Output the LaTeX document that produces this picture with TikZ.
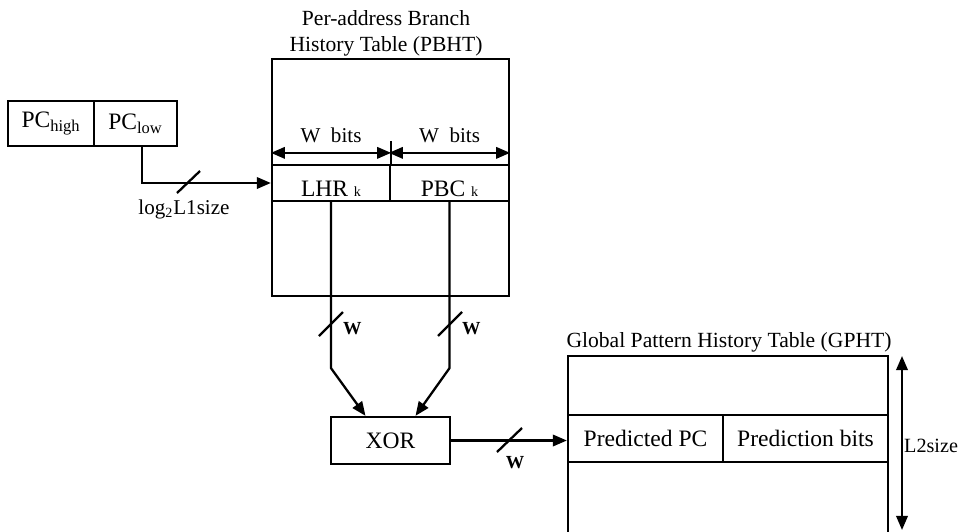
\documentclass[tikz,border=0pt]{standalone}
\usepackage{fontspec}
\setmainfont{Liberation Serif}
\usetikzlibrary{arrows.meta, positioning, calc}

\begin{document}
\begin{tikzpicture}[
  x=0.02cm, y=-0.02cm,
  >={Triangle[length=8pt, width=6.5pt]},
  line width=1.3pt,
  every node/.style={font=\fontsize{13.4}{15}\selectfont},
  cell/.style={draw, inner sep=0pt, minimum height=0.94cm},
  title/.style={font=\fontsize{12.3}{14.7}\selectfont, align=center, inner sep=0pt},
  note/.style={font=\fontsize{12}{14}\selectfont, inner sep=0pt},
  buslabel/.style={font=\fontsize{10.5}{12}\selectfont\bfseries, inner sep=0pt},
]
\useasboundingbox (0,0) rectangle (959,531);

% PC register
\node[cell, minimum width=1.72cm, minimum height=0.9cm] (pchigh) at (51,123.5) {PC\textsubscript{high}};
\node[cell, minimum width=1.66cm, minimum height=0.9cm] (pclow) at (135.5,123.5) {PC\textsubscript{low}};

% Per-address Branch History Table
\node[draw, minimum width=4.74cm, minimum height=4.74cm] (pbht) at (390.5,177.5) {};
\node[title, anchor=south] at (386,57) {Per-address Branch\\History Table (PBHT)};
\node[cell, minimum width=2.36cm, minimum height=0.72cm, text height=0.55cm] (lhr) at (331,183) {LHR {\footnotesize k}};
\node[cell, minimum width=2.38cm, minimum height=0.72cm, text height=0.55cm] (pbc) at (449.5,183) {PBC {\footnotesize k}};

% W bits widths
\draw[<->] ([yshift=0.22cm]lhr.north west) -- ([yshift=0.22cm]lhr.north east)
  node[midway, above, note, inner sep=5pt] {W\ \ bits};
\draw[<->] ([yshift=0.22cm]pbc.north west) -- ([yshift=0.22cm]pbc.north east)
  node[midway, above, note, inner sep=5pt] {W\ \ bits};
\draw ([yshift=0.46cm]lhr.north east) -- (lhr.north east);

% index from PC
\draw[->] ([xshift=0.13cm]pclow.south) |- (lhr.west);
\draw (177,193) -- (200,171);
\node[note] (l1lbl) at (184,209) {log\textsubscript{2}L1size};

% XOR
\node[cell, minimum width=2.38cm] (xor) at (390.5,440.5) {XOR};
\draw[->] (lhr.south) -- ++(0,166) -- ([xshift=-0.5cm]xor.north);
\draw[->] (pbc.south) -- ++(0,166) -- ([xshift=0.5cm]xor.north);
\draw (319,336) -- (343,312);
\draw (438,336) -- (462,312);
\node[buslabel, anchor=west] (wl) at (342,329) {W};
\node[buslabel, anchor=west] (wr) at (461,329) {W};

% Global Pattern History Table
\draw (568,540) |- (888,356) -- (888,540);
\node[title, anchor=base] at (729,347) {Global Pattern History Table (GPHT)};
\node[cell, minimum width=3.1cm] (ppc) at (645.5,438.5) {Predicted PC};
\node[cell, minimum width=3.3cm] (pbits) at (805.5,438.5) {Prediction bits};

% XOR output
\draw[->] (xor.east) -- (xor.east -| ppc.west);
\draw (497,452) -- (522,428);
\node[buslabel] (wo) at (515,463) {W};

% table size
\coordinate (l2top) at (902,356);
\coordinate (l2bot) at (902,530);
\draw[<->] (l2top) -- (l2bot);
\node[note, font=\fontsize{11.5}{13}\selectfont, anchor=west] (l2lbl) at (903,446) {L2size};

\end{tikzpicture}
\end{document}
